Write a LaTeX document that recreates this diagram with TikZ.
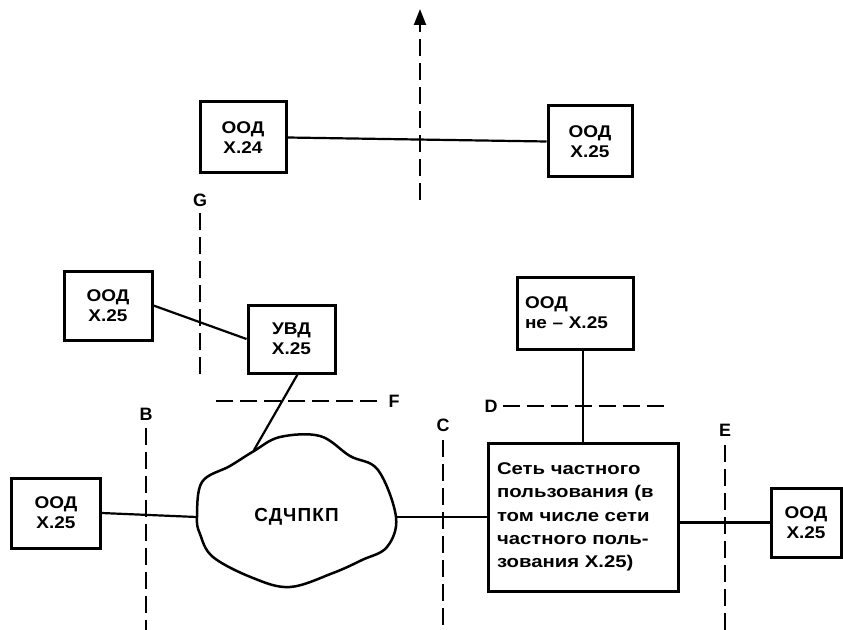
\documentclass[tikz,border=0pt]{standalone}
\usepackage{fontspec}
\setmainfont{Liberation Sans}
\usetikzlibrary{arrows.meta,calc,shapes.geometric}
\begin{document}
\begin{tikzpicture}[x=1bp,y=-1bp,
  box/.style={draw,line width=3bp,inner sep=0pt,align=center,
    font=\bfseries\fontsize{17}{20}\selectfont\addfontfeature{FakeStretch=1.12}},
  conn/.style={line width=2.2bp},
  bound/.style={line width=2.2bp,dash pattern=on 17bp off 7bp},
  lbl/.style={inner sep=0pt,font=\bfseries\fontsize{18}{18}\selectfont}]
\useasboundingbox (0,0) rectangle (843,630);
% boxes
\node[box,minimum width=86bp,minimum height=71bp] (ood24) at (243,137.5) {ООД\\X.24};
\node[box,minimum width=84bp,minimum height=71bp] (oodtop) at (590,141.5) {ООД\\X.25};
\node[box,minimum width=88bp,minimum height=69bp] (oodleft) at (108,305.5) {ООД\\X.25};
\node[box,minimum width=87bp,minimum height=68bp] (uvd) at (291.5,339) {УВД\\X.25};
\node[box,minimum width=116bp,minimum height=72bp,align=left,text width=100bp] (oodne) at (575,313) {ООД\\не – X.25};
\node[box,minimum width=190bp,minimum height=148bp,align=left,text width=172bp,
  font=\bfseries\fontsize{17}{23.5}\selectfont\addfontfeature{FakeStretch=1.2}] (priv) at (583,517)
  {Сеть частного\\пользования (в\\том числе сети\\частного поль-\\зования X.25)};
\node[box,minimum width=88bp,minimum height=70bp] (oodbl) at (56,513) {ООД\\X.25};
\node[box,minimum width=70bp,minimum height=69bp] (oodr) at (806,522.5) {ООД\\X.25};
% cloud
\draw[line width=2.5bp] plot[smooth cycle,tension=0.6] coordinates {
  (197,517) (202,482) (230,466) (254,451) (280,437) (320,436) (350,456)
  (378,470) (396,517) (387,547) (362,560) (333,573) (290,587) (253,578)
  (213,557) (200,534)};
\node[ellipse,minimum width=199bp,minimum height=150bp,inner sep=0pt,
  font=\bfseries\fontsize{19}{19}\selectfont\addfontfeature{LetterSpace=6}] (cloud) at (296.5,517) {СДЧПКП};
\coordinate (ctop) at (254,450);
% connectors
\draw[conn] (ood24.east) -- (oodtop.west);
\draw[conn] (oodleft.east) -- (uvd.west);
\draw[conn] ([xshift=6bp]uvd.south) -- (ctop);
\draw[conn] (oodbl.east) -- (cloud.west);
\draw[conn] (cloud.east) -- (priv.west);
\draw[conn] (priv.north |- oodne.south) -- (priv.north);
\draw[conn] (priv.east |- oodr.west) -- (oodr.west);
% boundary lines
\coordinate (a1) at (420,200); \coordinate (a2) at (420,9);
\draw[bound,-{Triangle[length=16bp,width=12bp]}] (a1) -- (a2);
\coordinate (g1) at (200,213); \coordinate (g2) at (200,376);
\draw[bound] (g1) -- (g2);
\node[lbl] (lg) at (200,200) {G};
\coordinate (f1) at (216,401); \coordinate (f2) at (384,401);
\draw[bound] (f1) -- (f2);
\node[lbl] (lf) at (394,401) {F};
\coordinate (d1) at (503,406); \coordinate (d2) at (668,406);
\draw[bound] (d1) -- (d2);
\node[lbl] (ld) at (491,406) {D};
\coordinate (b1) at (146,428); \coordinate (b2) at (146,630);
\draw[bound] (b1) -- (b2);
\node[lbl] (lb) at (146,414) {B};
\coordinate (c1) at (443,440); \coordinate (c2) at (443,630);
\draw[bound] (c1) -- (c2);
\node[lbl] (lc) at (443,425) {C};
\coordinate (e1) at (725,445); \coordinate (e2) at (725,630);
\draw[bound] (e1) -- (e2);
\node[lbl] (le) at (725,430) {E};
\end{tikzpicture}
\end{document}
